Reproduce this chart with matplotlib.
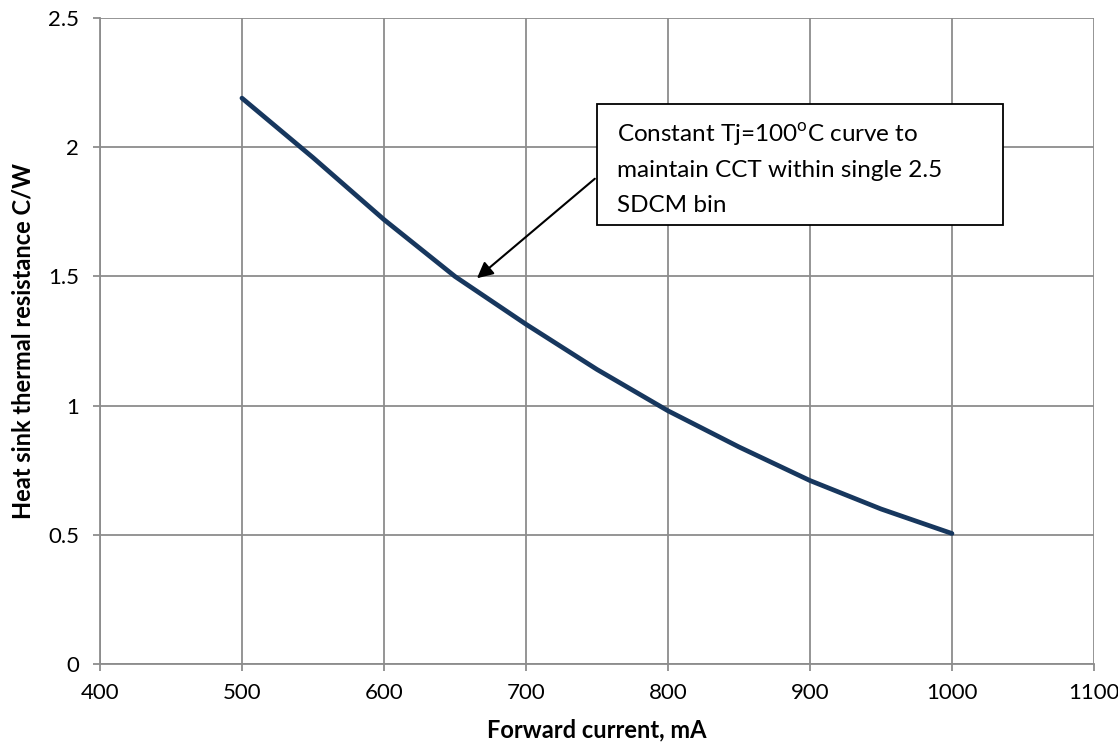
import matplotlib
matplotlib.use('Agg')
import matplotlib.pyplot as plt
from matplotlib.patches import Rectangle
from matplotlib.ticker import FormatStrFormatter

plt.rcParams['font.family'] = ['Lato', 'DejaVu Sans']
plt.rcParams['mathtext.fontset'] = 'custom'
plt.rcParams['mathtext.rm'] = 'Lato'

# forward current (mA) vs heat sink thermal resistance (C/W)
current = [500, 550, 600, 650, 700, 750, 800, 850, 900, 950, 1000]
resistance = [2.19, 1.96, 1.72, 1.50, 1.315, 1.14, 0.98, 0.84, 0.71, 0.60, 0.505]

x_ticks = [400, 500, 600, 700, 800, 900, 1000, 1100]
y_ticks = [0, 0.5, 1, 1.5, 2, 2.5]

note_lines = ['Constant Tj=100$^{\\mathrm{o}}$C curve to',
              'maintain CCT within single 2.5',
              'SDCM bin']

fig = plt.figure(figsize=(11.18, 7.48), dpi=100)
ax = fig.add_axes([0.0894, 0.1123, 0.8891, 0.8636])

grid_col = '#8c8c8c'
ax.plot(current, resistance, color='#17375e', lw=3.4, solid_capstyle='round', zorder=3)

ax.set_xlim(400, 1100)
ax.set_ylim(0, 2.5)
ax.set_xticks(x_ticks)
ax.set_yticks(y_ticks)
ax.yaxis.set_major_formatter(FormatStrFormatter('%g'))
ax.grid(True, color=grid_col, lw=1.3)
ax.set_axisbelow(True)
for s in ['top', 'right']:
    ax.spines[s].set_visible(False)
for s in ['left', 'bottom']:
    ax.spines[s].set_color(grid_col)
    ax.spines[s].set_linewidth(1.3)
ax.tick_params(axis='both', colors=grid_col, labelcolor='black', labelsize=16,
               length=5, width=1.3, direction='out')
ax.tick_params(axis='x', pad=9)
ax.tick_params(axis='y', pad=10)

ax.set_xlabel('Forward current, mA', fontsize=17, fontweight='bold', labelpad=11)
ax.set_ylabel('Heat sink thermal resistance C/W', fontsize=17, fontweight='bold', labelpad=10)

# annotation box
ax.add_patch(Rectangle((750, 1.699), 286, 0.468, facecolor='white', edgecolor='black',
                       lw=1.3, zorder=4))
for i, t in enumerate(note_lines):
    ax.text(764, 2.020 - i * 0.1355, t, fontsize=17.5, va='baseline', ha='left', zorder=5)

ax.annotate('', xy=(664, 1.486), xytext=(750, 1.885),
            arrowprops=dict(arrowstyle='-|>', color='black', lw=1.5, mutation_scale=24),
            zorder=5)

plt.savefig('out.png', dpi=100)
